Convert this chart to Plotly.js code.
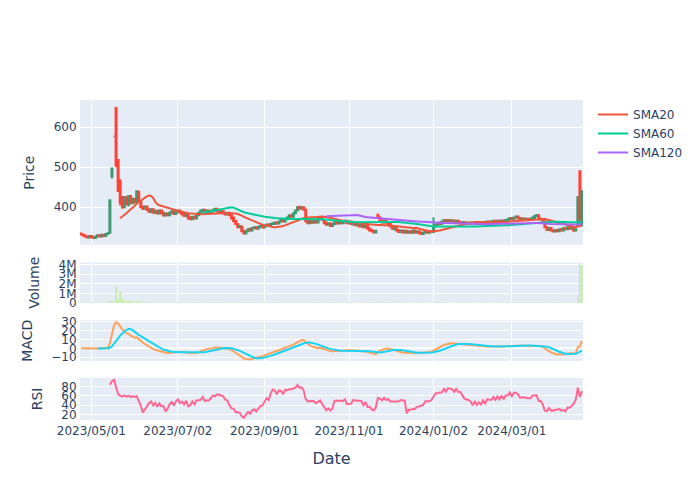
<!DOCTYPE html>
<html>
<head>
<meta charset="utf-8">
<script src="https://cdn.plot.ly/plotly-3.0.1.min.js"></script>
<style>html,body{margin:0;padding:0;background:#fff;}</style>
</head>
<body>
<div id="chart" style="width:700px;height:500px;"></div>
<script>
// ---- calendar (Tokyo exchange trading days) ----
const startDate = '2023-04-24';
const holidays = ['2023-05-03','2023-05-04','2023-05-05','2023-07-17','2023-08-11','2023-09-18',
  '2023-10-09','2023-11-03','2023-11-23','2024-01-01','2024-01-02','2024-01-03','2024-01-08',
  '2024-02-12','2024-02-23','2024-03-20'];

// ---- daily prices ----
const openP = [
334,332,329,327,324,328,325,323,327,330,
327,331,328,333,336,478,577,648,518,465,
425,400,425,405,428,410,420,412,438,415,
402,396,402,395,388,395,386,391,384,392,
386,379,384,380,386,390,383,389,392,386,
383,378,383,375,370,376,372,380,386,390,
394,388,392,386,390,392,396,391,387,390,
385,382,386,380,374,366,358,350,352,341,
334,340,346,342,348,350,346,351,353,349,
354,357,354,358,358,362,359,364,368,364,
370,374,380,376,385,392,401,396,400,394,
366,360,366,361,367,362,370,376,368,362,
356,360,353,358,364,359,366,360,362,366,
360,364,357,361,355,359,352,356,350,354,
347,343,341,337,381,374,367,362,366,362,
358,352,345,349,343,338,342,337,341,336,
340,336,342,337,340,336,333,337,340,336,
340,338,352,355,362,358,364,368,364,368,
365,367,362,366,363,360,363,360,362,359,
362,359,363,360,362,360,363,361,364,361,
364,366,363,366,364,367,365,368,370,373,
370,374,377,373,369,372,369,371,368,371,
372,378,380,372,369,365,350,343,348,342,
339,343,340,345,342,348,345,350,346,349,
342,353,490,356];
const highP = [
335,333,330,328,329,329,326,328,331,331,
332,332,334,336,420,497,577,650,520,470,
428,428,427,430,430,424,423,442,441,417,
404,404,404,397,397,396,393,393,394,393,
388,386,386,388,392,391,391,394,394,388,
385,385,385,377,378,378,382,388,394,396,
396,394,394,392,396,398,397,393,392,392,
387,388,388,382,375,368,360,355,353,342,
342,347,348,350,352,351,353,355,355,356,
359,359,360,362,364,363,366,370,370,372,
376,382,382,387,394,402,403,402,402,395,
368,368,368,369,369,374,378,378,370,364,
362,362,360,366,366,368,368,367,368,368,
366,366,363,363,361,361,358,358,356,356,
349,345,343,343,382,376,369,368,368,364,
360,354,351,351,345,344,344,343,343,342,
342,344,344,342,342,338,339,342,342,342,
342,375,358,362,364,366,370,370,370,370,
369,369,368,368,365,365,365,364,364,364,
364,365,365,364,364,365,365,366,366,366,
368,368,368,368,369,369,370,372,375,375,
376,379,379,375,374,374,373,373,373,376,
380,383,382,374,371,366,352,350,350,344,
345,345,347,347,350,350,352,352,351,351,
347,428,491,442];
const lowP = [
330,328,326,323,323,324,323,323,326,326,
326,327,327,332,335,472,577,500,438,405,
396,398,405,403,408,408,410,410,413,398,
393,394,391,386,386,384,384,382,382,383,
377,377,378,378,384,381,381,387,384,380,
376,376,370,368,368,370,370,378,384,388,
386,386,384,384,388,390,388,385,385,382,
380,380,378,370,363,356,348,348,338,332,
332,338,340,340,346,344,344,349,347,347,
352,352,352,356,356,357,357,362,362,362,
368,372,374,374,383,390,394,394,392,362,
358,358,359,359,360,360,368,366,358,354,
354,351,351,356,357,357,358,358,360,358,
358,356,355,353,353,350,350,348,348,344,
340,338,335,335,372,364,360,360,359,356,
350,344,343,340,336,336,335,335,334,334,
334,334,335,335,333,331,331,335,334,334,
336,337,350,353,356,356,362,362,362,363,
363,361,360,360,358,358,358,358,357,357,
357,357,358,358,358,358,359,359,359,359,
362,361,361,362,362,363,363,366,368,368,
368,372,370,367,367,367,367,366,366,369,
370,377,370,367,364,348,341,341,340,337,
337,338,338,340,340,343,343,344,344,339,
340,352,355,352];
const closeP = [
332,329,327,324,328,325,323,327,330,327,
331,328,333,335,417,497,577,505,441,412,
402,425,408,428,410,422,412,440,415,400,
396,402,393,388,395,386,391,384,392,385,
379,384,380,386,390,383,389,392,386,382,
378,383,372,370,376,372,380,386,392,394,
388,392,386,390,394,396,390,387,390,384,
382,386,380,372,365,358,350,353,340,334,
340,345,342,348,350,346,351,353,349,354,
357,354,358,360,362,359,364,368,364,370,
374,380,376,385,392,400,396,400,394,365,
360,366,361,367,362,372,376,368,360,356,
360,353,358,364,359,366,360,365,366,360,
364,358,361,355,359,352,356,350,354,346,
342,340,337,341,374,366,362,366,361,358,
352,346,349,342,338,342,337,341,336,340,
336,342,337,340,335,333,337,340,336,340,
338,352,356,360,358,364,368,364,368,365,
367,363,366,362,360,363,360,362,359,362,
359,363,360,362,360,363,361,364,361,364,
366,363,366,364,367,365,368,370,373,370,
374,377,372,369,372,369,371,368,371,374,
378,380,372,369,366,350,343,348,342,339,
343,340,345,342,348,345,350,346,349,341,
345,425,372,440];
const volume = [
85000,72000,64000,58000,60000,55000,52000,61000,70000,57000,
66000,59000,90000,120000,210000,240000,95000,1750000,380000,1200000,
450000,260000,190000,230000,160000,150000,120000,210000,170000,130000,
110000,90000,105000,85000,80000,95000,70000,75000,88000,72000,
68000,74000,62000,70000,78000,66000,60000,72000,64000,58000,
62000,55000,70000,64000,58000,52000,66000,72000,80000,68000,
60000,54000,58000,50000,62000,70000,56000,52000,48000,55000,
50000,46000,52000,68000,80000,74000,66000,70000,62000,58000,
64000,56000,48000,52000,50000,46000,54000,50000,44000,52000,
56000,48000,50000,54000,58000,50000,60000,66000,58000,70000,
74000,82000,66000,78000,90000,96000,80000,70000,64000,88000,
72000,60000,54000,58000,52000,66000,70000,58000,62000,54000,
50000,56000,48000,52000,50000,58000,50000,46000,52000,48000,
44000,50000,46000,48000,44000,52000,46000,48000,44000,56000,
54000,50000,58000,52000,160000,90000,70000,60000,56000,52000,
58000,66000,110000,62000,58000,50000,54000,48000,52000,46000,
50000,48000,46000,44000,52000,56000,48000,46000,44000,48000,
42000,130000,80000,66000,60000,58000,62000,54000,52000,50000,
48000,46000,50000,44000,42000,46000,44000,42000,46000,40000,
44000,42000,40000,46000,42000,44000,40000,46000,42000,44000,
48000,44000,46000,42000,48000,44000,50000,54000,58000,52000,
56000,60000,54000,50000,48000,46000,44000,48000,46000,52000,
62000,70000,58000,52000,56000,90000,74000,60000,56000,52000,
50000,48000,52000,46000,54000,50000,56000,52000,48000,60000,
58000,700000,4000000,3950000];

// ---- build trading dates and the list of missing calendar days ----
function isoDay(d){ return d.toISOString().slice(0,10); }
function tradingDates(start, n, hol){
  const hs = new Set(hol), out = [];
  const d = new Date(start + 'T00:00:00Z');
  while(out.length < n){
    const w = d.getUTCDay(), s = isoDay(d);
    if(w !== 0 && w !== 6 && !hs.has(s)) out.push(s);
    d.setUTCDate(d.getUTCDate() + 1);
  }
  return out;
}
const dates = tradingDates(startDate, closeP.length, holidays);
const have = new Set(dates);
const missing = [];
{
  const d = new Date(dates[0] + 'T00:00:00Z');
  const end = new Date(dates[dates.length-1] + 'T00:00:00Z');
  while(d <= end){ const s = isoDay(d); if(!have.has(s)) missing.push(s); d.setUTCDate(d.getUTCDate()+1); }
}

// ---- indicators derived from closes ----
function sma(a, n){ return a.map((v,i)=> (v == null || i < n-1) ? null : a.slice(i-n+1, i+1).reduce((s,x)=>s+x,0)/n); }
function ewm(a, span){
  const al = 2/(span+1); let num = 0, den = 0;
  return a.map(v => { num = v + (1-al)*num; den = 1 + (1-al)*den; return num/den; });
}
const ema12 = ewm(closeP, 12), ema26 = ewm(closeP, 26);
const macd = ema12.map((v,i)=> v - ema26[i]);
const signal = sma(macd, 9);
const rsi = closeP.map((c,i)=>{
  if(i < 14) return null;
  let g = 0, l = 0;
  for(let k = i-13; k <= i; k++){ const d = closeP[k] - closeP[k-1]; if(d > 0) g += d; else l -= d; }
  if(l === 0) return 100;
  return 100 - 100/(1 + g/l);
});

const traces = [
  {type:'candlestick', x:dates, open:openP, high:highP, low:lowP, close:closeP, name:'Price',
   xaxis:'x', yaxis:'y', showlegend:false,
   increasing:{line:{color:'#3D9970'}}, decreasing:{line:{color:'#FF4136'}}},
  {type:'scatter', mode:'lines', x:dates, y:sma(closeP,20), name:'SMA20', line:{color:'#EF553B', width:2}, xaxis:'x', yaxis:'y'},
  {type:'scatter', mode:'lines', x:dates, y:sma(closeP,60), name:'SMA60', line:{color:'#00CC96', width:2}, xaxis:'x', yaxis:'y'},
  {type:'scatter', mode:'lines', x:dates, y:sma(closeP,120), name:'SMA120', line:{color:'#AB63FA', width:2}, xaxis:'x', yaxis:'y'},
  {type:'scatter', mode:'lines', x:dates, y:macd, name:'MACD', line:{color:'#FFA15A', width:2}, xaxis:'x3', yaxis:'y3', showlegend:false},
  {type:'scatter', mode:'lines', x:dates, y:signal, name:'Signal', line:{color:'#19D3F3', width:2}, xaxis:'x3', yaxis:'y3', showlegend:false},
  {type:'scatter', mode:'lines', x:dates, y:rsi, name:'RSI', line:{color:'#FF6692', width:2}, xaxis:'x4', yaxis:'y4', showlegend:false},
  {type:'bar', x:dates, y:volume, name:'Volume', marker:{color:'#B6E880', line:{color:'#E5ECF6', width:0.5}}, xaxis:'x2', yaxis:'y2', showlegend:false}
];

const ax = {gridcolor:'white', linecolor:'white', zerolinecolor:'white', zerolinewidth:2, ticks:'', automargin:true};
const rb = [{values: missing}];
const layout = {
  width:700, height:500,
  paper_bgcolor:'white', plot_bgcolor:'#E5ECF6',
  font:{family:'DejaVu Sans, Verdana, sans-serif', size:12, color:'#2a3f5f'},
  margin:{l:80, r:80, t:100, b:80},
  showlegend:true,
  xaxis: Object.assign({}, ax, {type:'date', anchor:'y', rangebreaks:rb, matches:'x4', showticklabels:false, rangeslider:{visible:false}}),
  xaxis2: Object.assign({}, ax, {type:'date', anchor:'y2', rangebreaks:rb, matches:'x4', showticklabels:false}),
  xaxis3: Object.assign({}, ax, {type:'date', anchor:'y3', rangebreaks:rb, matches:'x4', showticklabels:false}),
  xaxis4: Object.assign({}, ax, {type:'date', anchor:'y4', rangebreaks:rb, tickformat:'%Y/%m/%d', title:{text:'Date', standoff:15, font:{size:16}}}),
  yaxis: Object.assign({}, ax, {domain:[0.546,1], anchor:'x', title:{text:'Price', standoff:15}, dtick:100}),
  yaxis2: Object.assign({}, ax, {domain:[0.366,0.492], anchor:'x2', title:{text:'Volume', standoff:15}, dtick:1000000}),
  yaxis3: Object.assign({}, ax, {domain:[0.183,0.3125], anchor:'x3', title:{text:'MACD', standoff:15}, dtick:10}),
  yaxis4: Object.assign({}, ax, {domain:[0,0.132], anchor:'x4', title:{text:'RSI', standoff:15}, dtick:20})
};
Plotly.newPlot('chart', traces, layout, {displayModeBar:false});
</script>
</body>
</html>
